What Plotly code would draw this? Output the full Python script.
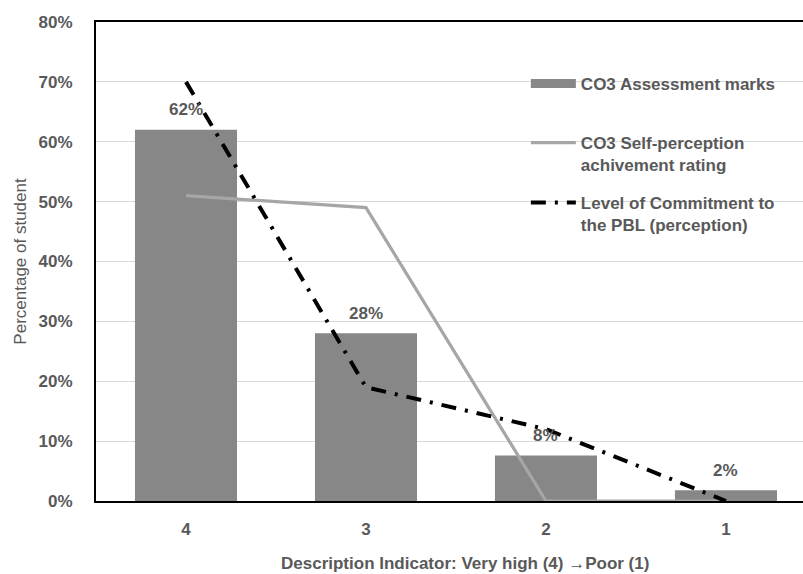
import plotly.graph_objects as go

# Rating levels, from "Very high" (4) down to "Poor" (1)
categories = ["4", "3", "2", "1"]

# Share of students per rating level (fractions)
assessment_marks = [0.62, 0.28, 0.076, 0.018]
self_perception = [0.51, 0.49, 0.0, 0.0]
commitment = [0.70, 0.19, 0.12, 0.0]

y_ticks = [0, 0.1, 0.2, 0.3, 0.4, 0.5, 0.6, 0.7, 0.8]

FONT = "Liberation Sans Narrow, Arial Narrow, Liberation Sans, Arial, sans-serif"
TEXT_GRAY = "#595959"
BAR_GRAY = "#878787"
LINE_GRAY = "#a6a6a6"

W, H = 803, 574
M_L, M_R, M_T, M_B = 96, 0, 22, 73
PH = H - M_T - M_B


def py(pixel_y):
    """Convert a pixel row (from the top of the page) to paper y units."""
    return (H - M_B - pixel_y) / PH


fig = go.Figure()

fig.add_trace(go.Bar(
    x=categories, y=assessment_marks, width=0.567,
    marker=dict(color=BAR_GRAY, line=dict(width=0)),
    name="CO3 Assessment marks", showlegend=False,
))
fig.add_trace(go.Scatter(
    x=categories, y=self_perception, mode="lines",
    line=dict(color=LINE_GRAY, width=3.2),
    name="CO3 Self-perception<br>achivement rating",
    legend="legend2", cliponaxis=False,
))
fig.add_trace(go.Scatter(
    x=categories, y=commitment, mode="lines",
    line=dict(color="black", width=4, dash="15px,9px,3px,9px"),
    name="Level of Commitment to<br>the PBL (perception)",
    legend="legend3", cliponaxis=False,
))
# Wide swatch for the bar series legend entry
fig.add_trace(go.Scatter(
    x=[None], y=[None], mode="lines",
    line=dict(color=BAR_GRAY, width=9),
    name="CO3 Assessment marks", legend="legend",
))

# Value labels above the bars (x given as category index)
for i, v in enumerate(assessment_marks):
    fig.add_annotation(
        x=i, y=v, xref="x", yref="y", text=f"{v:.0%}", showarrow=False,
        yanchor="middle", yshift=20,
        font=dict(family=FONT, size=17, color=TEXT_GRAY, weight="bold"),
    )

# X axis title
fig.add_annotation(
    x=419 / W, y=py(563), xref="paper", yref="paper",
    xanchor="center", yanchor="middle",
    text="Description Indicator: Very high (4) \u2192Poor (1)", showarrow=False,
    font=dict(family=FONT, size=17, color=TEXT_GRAY, weight="bold"),
)

legend_font = dict(family=FONT, size=17, color=TEXT_GRAY, weight="bold")
common_legend = dict(
    bgcolor="rgba(0,0,0,0)", font=legend_font, xanchor="left", yanchor="top",
    valign="top", itemwidth=45, tracegroupgap=0,
)
LX = 0.608

fig.update_layout(
    width=W, height=H,
    margin=dict(l=M_L, r=M_R, t=M_T, b=M_B),
    paper_bgcolor="white", plot_bgcolor="white",
    font=dict(family=FONT, color=TEXT_GRAY),
    legend=dict(x=LX, y=py(66), **common_legend),
    legend2=dict(x=LX, y=py(125), **common_legend),
    legend3=dict(x=LX, y=py(185), **common_legend),
    xaxis=dict(
        type="category", range=[-0.5, 3.428],
        showline=True, linecolor="black", linewidth=2, mirror=True,
        showgrid=False, ticks="", ticklabelstandoff=12,
        tickfont=dict(family=FONT, size=17, color=TEXT_GRAY, weight="bold"),
    ),
    yaxis=dict(
        range=[0, 0.8], tickvals=y_ticks, tickformat=".0%",
        showline=True, linecolor="black", linewidth=2, mirror=False,
        showgrid=True, gridcolor="#d9d9d9", gridwidth=1,
        zeroline=False, ticks="", ticklabelstandoff=18,
        tickfont=dict(family=FONT, size=17, color=TEXT_GRAY, weight="bold"),
        title=dict(text="Percentage of student",
                   font=dict(family=FONT, size=17, color=TEXT_GRAY),
                   standoff=8),
    ),
)

fig.write_html("out.html")
